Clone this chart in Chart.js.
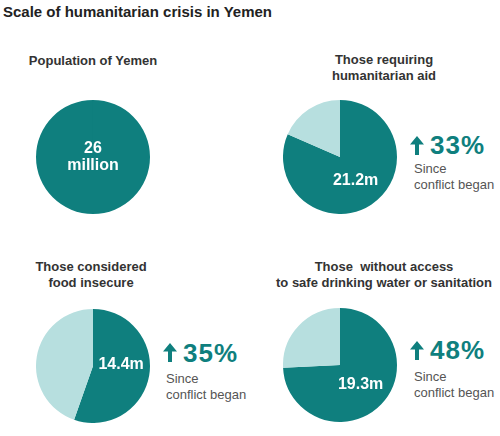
<!DOCTYPE html>
<html>
<head>
<meta charset="utf-8">
<script src="https://cdn.jsdelivr.net/npm/chart.js@4"></script>
<style>
  html, body { margin: 0; padding: 0; background: #fff; }
  body { width: 500px; height: 436px; position: relative; overflow: hidden; font-family: "Liberation Sans", Arial, sans-serif; }
  .t { position: absolute; white-space: pre; }
  .main { left: 3px; top: 3px; font-size: 15px; line-height: 18px; font-weight: bold; color: #222; }
  .ptitle { font-size: 13px; line-height: 16px; font-weight: bold; color: #333; text-align: center; width: 240px; }
  .pct { font-size: 26px; line-height: 26px; font-weight: bold; color: #0f7f7e; letter-spacing: 1px; }
  .since { font-size: 13px; line-height: 16px; color: #555; }
  .cv { position: absolute; }
  svg.arrow { position: absolute; }
</style>
</head>
<body>
<div class="t main" id="mainTitle"></div>
<div id="layer"></div>
<script>
// ---- data ----
const chartTitle = "Scale of humanitarian crisis in Yemen";
const categories = [
  ["Population of Yemen"],
  ["Those requiring", "humanitarian aid"],
  ["Those considered", "food insecure"],
  ["Those  without access", "to safe drinking water or sanitation"]
];
const population = 26;                       // million
const affected = [26, 21.2, 14.4, 19.3];     // million
const valueLabels = [["26", "million"], ["21.2m"], ["14.4m"], ["19.3m"]];
const increasePct = [null, 33, 35, 48];      // % since conflict began
const increaseText = ["Since", "conflict began"];

// ---- layout (positions/styles only) ----
const TEAL = "#0f7f7e", LIGHT = "#b7dfdf";
const R = 57;
const cells = [
  { cx: 93,  cy: 157, titleX: 93,  titleTop: 53,  arrow: null },
  { cx: 340, cy: 157, titleX: 384, titleTop: 52,  arrow: { ax: 410, ay: 136, px: 430, pTop: 131.5, sx: 414, sTop: 161 } },
  { cx: 93,  cy: 366, titleX: 91,  titleTop: 259, arrow: { ax: 163, ay: 343, px: 183, pTop: 339.5, sx: 166, sTop: 370.5 } },
  { cx: 340, cy: 365, titleX: 384, titleTop: 259, arrow: { ax: 410, ay: 341, px: 430, pTop: 337, sx: 414, sTop: 369 } }
];

document.getElementById("mainTitle").textContent = chartTitle;
const layer = document.getElementById("layer");

function addText(cls, left, top, lines) {
  const d = document.createElement("div");
  d.className = "t " + cls;
  d.style.left = left + "px";
  d.style.top = top + "px";
  d.textContent = lines.join("\n");
  layer.appendChild(d);
  return d;
}

const innerLabelPlugin = {
  id: "innerLabel",
  afterDatasetsDraw(chart, args, opts) {
    const meta = chart.getDatasetMeta(0);
    const arc = meta.data[0];
    if (!arc) return;
    const lines = opts.lines || [];
    const ctx = chart.ctx;
    let x, y;
    const full = Math.abs(arc.endAngle - arc.startAngle) >= Math.PI * 2 - 1e-6;
    if (full) { x = arc.x; y = arc.y; }
    else { const p = arc.tooltipPosition(); x = p.x; y = p.y + (opts.dy || 0); }
    ctx.save();
    ctx.fillStyle = "#ffffff";
    ctx.font = "bold 16px 'Liberation Sans', Arial, sans-serif";
    ctx.textAlign = "center";
    ctx.textBaseline = "middle";
    const lh = 17;
    const y0 = y - (lines.length - 1) * lh / 2;
    lines.forEach((ln, i) => ctx.fillText(ln, x, y0 + i * lh));
    ctx.restore();
  }
};

cells.forEach((c, i) => {
  // title
  addText("ptitle", c.titleX - 120, c.titleTop, categories[i]);

  // pie
  const cv = document.createElement("canvas");
  cv.className = "cv";
  cv.width = 2 * R; cv.height = 2 * R;
  cv.style.left = (c.cx - R) + "px";
  cv.style.top = (c.cy - R) + "px";
  cv.style.width = 2 * R + "px";
  cv.style.height = 2 * R + "px";
  layer.appendChild(cv);
  new Chart(cv, {
    type: "pie",
    data: {
      labels: ["Affected", "Rest of population"],
      datasets: [{
        data: [affected[i], +(population - affected[i]).toFixed(1)],
        backgroundColor: [TEAL, LIGHT],
        borderWidth: 0,
        hoverOffset: 0,
        offset: 0
      }]
    },
    options: {
      responsive: false,
      animation: false,
      events: [],
      layout: { padding: 0 },
      plugins: {
        legend: { display: false },
        tooltip: { enabled: false },
        innerLabel: { lines: valueLabels[i], dy: i === 2 ? -6 : 0 }
      }
    },
    plugins: [innerLabelPlugin]
  });

  // increase annotation
  if (c.arrow && increasePct[i] !== null) {
    const a = c.arrow;
    const ns = "http://www.w3.org/2000/svg";
    const svg = document.createElementNS(ns, "svg");
    svg.setAttribute("class", "arrow");
    svg.setAttribute("width", "14");
    svg.setAttribute("height", "19");
    svg.style.left = a.ax + "px";
    svg.style.top = a.ay + "px";
    const poly = document.createElementNS(ns, "polygon");
    poly.setAttribute("points", "7,0 14,8.5 9,8.5 9,19 5,19 5,8.5 0,8.5");
    poly.setAttribute("fill", TEAL);
    svg.appendChild(poly);
    layer.appendChild(svg);
    addText("pct", a.px, a.pTop, [increasePct[i] + "%"]);
    addText("since", a.sx, a.sTop, increaseText);
  }
});
</script>
</body>
</html>
